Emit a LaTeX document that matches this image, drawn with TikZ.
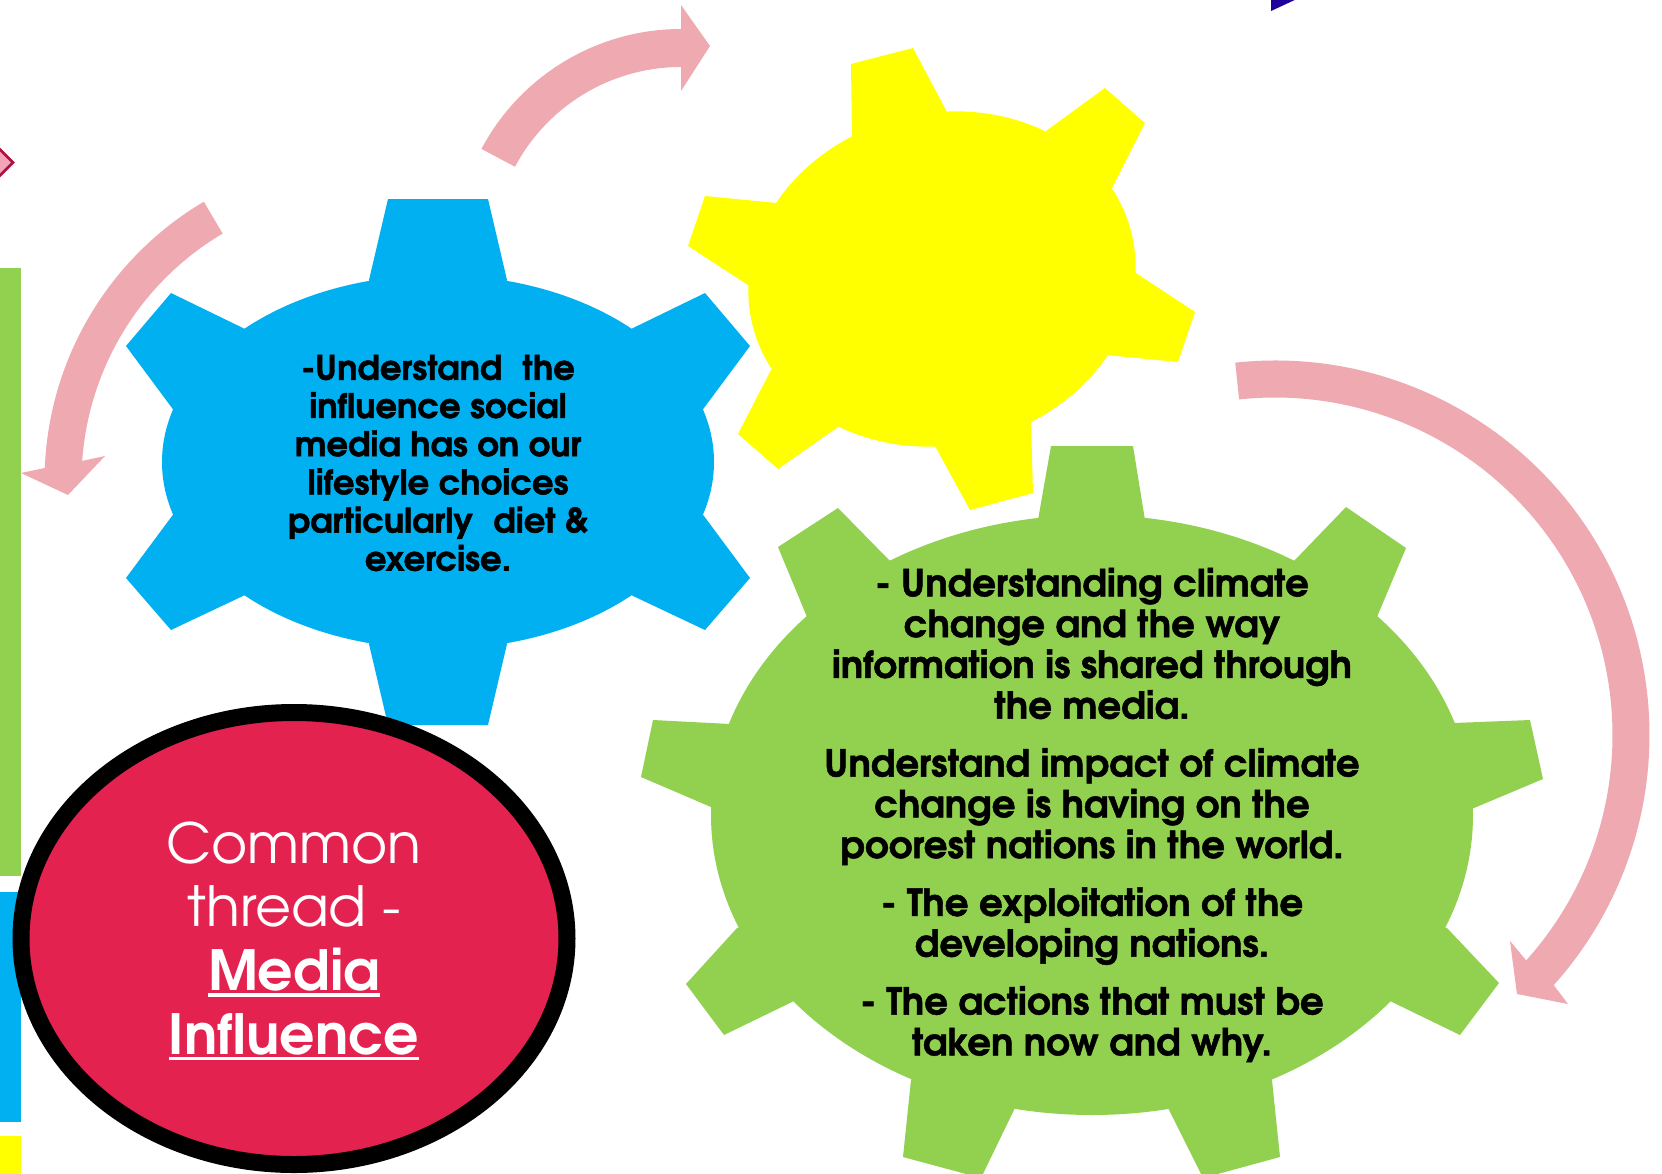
\documentclass[tikz,border=0pt]{standalone}
\usepackage{fontspec}
\usetikzlibrary{calc}
\IfFontExistsTF{TeX Gyre Adventor}{%
  \newfontfamily\bluefont{TeX Gyre Adventor}[FakeStretch=1.0,FakeBold=1.3]
  \newfontfamily\greenfont{TeX Gyre Adventor}[FakeStretch=1.0,FakeBold=1.3]
  \newfontfamily\redfont{TeX Gyre Adventor}
}{%
  \newfontfamily\bluefont{TeX Gyre Heros}[FakeStretch=1.0]
  \newfontfamily\greenfont{TeX Gyre Heros}[FakeStretch=1.0]
  \newfontfamily\redfont{TeX Gyre Heros}
}
\definecolor{gblue}{HTML}{00B0F0}
\definecolor{ggreen}{HTML}{92D050}
\definecolor{gyellow}{HTML}{FFFF00}
\definecolor{apink}{HTML}{EFA9B1}
\definecolor{redfill}{HTML}{E42250}
\definecolor{diapink}{HTML}{F4A3B8}
\definecolor{diared}{HTML}{B01040}
\definecolor{navyc}{HTML}{20009A}
\newcommand\thickul[1]{\setbox0\hbox{#1}\rlap{\rule[-3.2pt]{\wd0}{1.7pt}}\box0}
\begin{document}
\begin{tikzpicture}[x=0.5pt,y=-0.5pt,
  arrowband/.style={fill=apink},
  geartext/.style={align=center,text=black,inner sep=0pt}]
\useasboundingbox (0,0) rectangle (1662,1174);
\clip (0,0) rectangle (1662,1174);
\fill[white] (0,0) rectangle (1662,1174);

% left edge bars
\fill[ggreen] (0,268) rectangle (21,876);
\fill[gblue] (0,892) rectangle (21,1122);
\fill[gyellow] (0,1136) rectangle (21,1174);

% small diamond at left edge
\filldraw[fill=diapink,draw=diared,line width=1.3pt] (13,162.5) -- (-2,147.5) -- (-17,162.5) -- (-2,177.5) -- cycle;

% dark triangle at top
\fill[navyc] (1271,-2) -- (1299,-2) -- (1271,11) -- cycle;

% curved arrows
\coordinate (ca) at (681,255);
\fill[arrowband] ($(ca)+(208:226)$) arc[start angle=208,end angle=270,radius=226]
  -- (681,5) -- (710,46) -- (681,91) -- ($(ca)+(270:188)$)
  arc[start angle=270,end angle=208,radius=188] -- cycle;

\coordinate (cb) at (369,481);
\fill[arrowband] ($(cb)+(239.4:324.5)$) arc[start angle=239.4,end angle=182.3,radius=324.5]
  -- (21,473) -- (68,495) -- (105,456) -- ($(cb)+(184:287.5)$)
  arc[start angle=184,end angle=239.4,radius=287.5] -- cycle;

\coordinate (cc) at (1275,735);
\fill[arrowband] ($(cc)+(263.9:374.5)$) arc[start angle=263.9,end angle=401.9,radius=374.5]
  -- (1568,1004) -- (1517,994) -- (1510,941) -- ($(cc)+(401.9:337.5)$)
  arc[start angle=401.9,end angle=263.9,radius=337.5] -- cycle;

% yellow gear
\coordinate (yc) at (942,279);
\fill[gyellow,rotate around={13:(yc)}] (yc) ellipse [x radius=195,y radius=166];
\fill[gyellow] (yc) -- (852,137) -- (851,64) -- (913,48) -- (947,112) -- cycle;
\fill[gyellow] (yc) -- (1046,131) -- (1105,88) -- (1145,123) -- (1112,188) -- cycle;
\fill[gyellow] (yc) -- (1136,273) -- (1195,312) -- (1178,362) -- (1106,355) -- cycle;
\fill[gyellow] (yc) -- (1031,421) -- (1033,493) -- (970,510) -- (935,446) -- cycle;
\fill[gyellow] (yc) -- (838,427) -- (778,469) -- (738,434) -- (771,370) -- cycle;
\fill[gyellow] (yc) -- (748,285) -- (688,246) -- (705,196) -- (777,203) -- cycle;

% blue gear
\coordinate (bc) at (438,462);
\fill[gblue] (bc) ellipse [x radius=276,y radius=187];
\fill[gblue] (bc) -- (369,280) -- (388,199) -- (488,199) -- (507,280) -- cycle;
\fill[gblue] (bc) -- (631,329) -- (705,293) -- (750,346) -- (701,412) -- cycle;
\fill[gblue] (bc) -- (701,512) -- (750,578) -- (705,630) -- (631,595) -- cycle;
\fill[gblue] (bc) -- (507,644) -- (488,725) -- (388,725) -- (369,644) -- cycle;
\fill[gblue] (bc) -- (245,595) -- (171,630) -- (126,578) -- (175,512) -- cycle;
\fill[gblue] (bc) -- (175,412) -- (126,346) -- (171,293) -- (245,329) -- cycle;

% green gear
\coordinate (gc) at (1092,815);
\fill[ggreen] (gc) ellipse [x radius=381,y radius=300];
\fill[ggreen] (gc) -- (1038,520) -- (1051,446) -- (1133,446) -- (1145,520) -- cycle;
\fill[ggreen] (gc) -- (1294,561) -- (1346,507) -- (1406,548) -- (1377,617) -- cycle;
\fill[ggreen] (gc) -- (1454,723) -- (1530,720) -- (1543,779) -- (1474,808) -- cycle;
\fill[ggreen] (gc) -- (1447,928) -- (1499,983) -- (1460,1035) -- (1392,1002) -- cycle;
\fill[ggreen] (gc) -- (1272,1080) -- (1280,1157) -- (1203,1178) -- (1169,1110) -- cycle;
\fill[ggreen] (gc) -- (1014,1110) -- (981,1178) -- (903,1157) -- (911,1080) -- cycle;
\fill[ggreen] (gc) -- (792,1002) -- (724,1035) -- (686,984) -- (737,928) -- cycle;
\fill[ggreen] (gc) -- (711,807) -- (641,777) -- (653,720) -- (730,724) -- cycle;
\fill[ggreen] (gc) -- (807,617) -- (778,547) -- (838,508) -- (891,562) -- cycle;

% red ellipse
\filldraw[fill=redfill,draw=black,line width=8.5pt] (294,938.5) ellipse [x radius=273,y radius=226];

% texts
\node[geartext,font=\bluefont\bfseries\fontsize{16.9}{19.1}\selectfont] (bluetext) at (438,463)
  {-Understand\hspace{0.6em}the\\influence social\\media has on our\\lifestyle choices\\particularly\hspace{0.6em}diet \&\\exercise.};

\node[geartext,font=\greenfont\bfseries\fontsize{18.6}{20.4}\selectfont] (greentext) at (1092,815)
  {- Understanding climate\\change and the way\\information is shared through\\the media.\\[8.5pt]
   Understand impact of climate\\change is having on the\\poorest nations in the world.\\[8.5pt]
   - The exploitation of the\\developing nations.\\[8.5pt]
   - The actions that must be\\taken now and why.};

\node[align=center,inner sep=0pt,text=white,font=\redfont\fontsize{27.7}{31.8}\selectfont] (thread) at (294,941)
  {Common\\thread -\\\textbf{\thickul{Media}}\\\textbf{\thickul{Influence}}};
\end{tikzpicture}
\end{document}
